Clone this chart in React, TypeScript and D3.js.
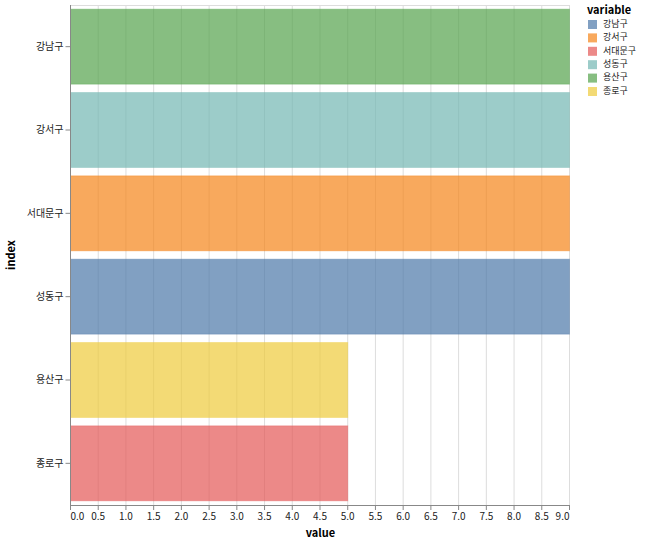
import React from 'react';
import * as d3 from 'd3';

// chart data
const indexLabels = ['강남구', '강서구', '서대문구', '성동구', '용산구', '종로구'];
const barVariables = ['용산구', '성동구', '강서구', '강남구', '종로구', '서대문구'];
const barValues = [9, 9, 9, 9, 5, 5];
const legendDomain = ['강남구', '강서구', '서대문구', '성동구', '용산구', '종로구'];
const legendColors = ['#4c78a8', '#f58518', '#e45756', '#72b7b2', '#54a24b', '#eeca3b'];
const xTicks = [0, 0.5, 1, 1.5, 2, 2.5, 3, 3.5, 4, 4.5, 5, 5.5, 6, 6.5, 7, 7.5, 8, 8.5, 9];

const W = 652;
const H = 545;
const left = 70.5;
const top = 5;
const plotW = 500;
const plotH = 500;
const font = "'Noto Sans CJK KR', 'Noto Sans', sans-serif";

const App = () => {
  const x = d3.scaleLinear().domain([0, 9]).range([left, left + plotW - 1]);
  const y = d3.scaleBand().domain(indexLabels).range([top, top + plotH]).paddingInner(0.1).paddingOuter(0.05);
  const color = d3.scaleOrdinal<string, string>().domain(legendDomain).range(legendColors);
  const rows = indexLabels.map((label, i) => ({ label, variable: barVariables[i], value: barValues[i] }));

  // first and last tick labels sit flush with the axis ends
  const anchorFor = (i: number) => (i === 0 ? 'start' : i === xTicks.length - 1 ? 'end' : 'middle');

  return (
    <svg width={W} height={H} style={{ position: 'absolute', left: 0, top: 0, fontFamily: font }}>
      <rect x={0} y={0} width={W} height={H} fill="white" />
      {/* view border */}
      <rect x={left} y={top + 0.5} width={plotW - 1} height={plotH} fill="none" stroke="#ddd" />
      {/* grid */}
      {xTicks.map(t => (
        <line key={t} x1={x(t)} x2={x(t)} y1={top} y2={top + plotH} stroke="#ddd" />
      ))}
      {/* bars */}
      {rows.map(d => (
        <rect
          key={d.label}
          x={x(0)}
          y={y(d.label)}
          width={x(d.value) - x(0)}
          height={y.bandwidth()}
          fill={color(d.variable)}
          fillOpacity={0.7}
          stroke={color(d.variable)}
          strokeOpacity={0.35}
        />
      ))}
      {/* x axis */}
      <line x1={left} x2={left + plotW - 1} y1={top + plotH + 0.5} y2={top + plotH + 0.5} stroke="#888" />
      {xTicks.map((t, i) => (
        <g key={t} transform={`translate(${x(t)},${top + plotH})`}>
          <line y1={0} y2={5} stroke="#888" />
          <text y={15} textAnchor={anchorFor(i)} fontSize={10} fill="#222">{t.toFixed(1)}</text>
        </g>
      ))}
      <text x={left + plotW / 2} y={537} textAnchor="middle" fontSize={11} fontWeight="bold">value</text>
      {/* y axis */}
      <line x1={left} x2={left} y1={top} y2={top + plotH} stroke="#888" />
      {indexLabels.map(l => {
        const cy = (y(l) as number) + y.bandwidth() / 2;
        return (
          <g key={l} transform={`translate(${left},${cy})`}>
            <line x1={-5} x2={0} stroke="#888" />
            <text x={-7} dy="0.32em" textAnchor="end" fontSize={10} fill="#222">{l}</text>
          </g>
        );
      })}
      <text transform={`translate(15,${top + plotH / 2}) rotate(-90)`} textAnchor="middle" fontSize={11} fontWeight="bold">index</text>
      {/* legend */}
      <text x={587} y={14} fontSize={11} fontWeight="bold">variable</text>
      {legendDomain.map((v, i) => (
        <g key={v} transform={`translate(587,${24 + i * 13.4})`}>
          <rect x={1} y={-4} width={9} height={9} fill={color(v)} fillOpacity={0.7} />
          <text x={16} dy="0.32em" fontSize={9} fill="#222">{v}</text>
        </g>
      ))}
    </svg>
  );
};

export default App;
